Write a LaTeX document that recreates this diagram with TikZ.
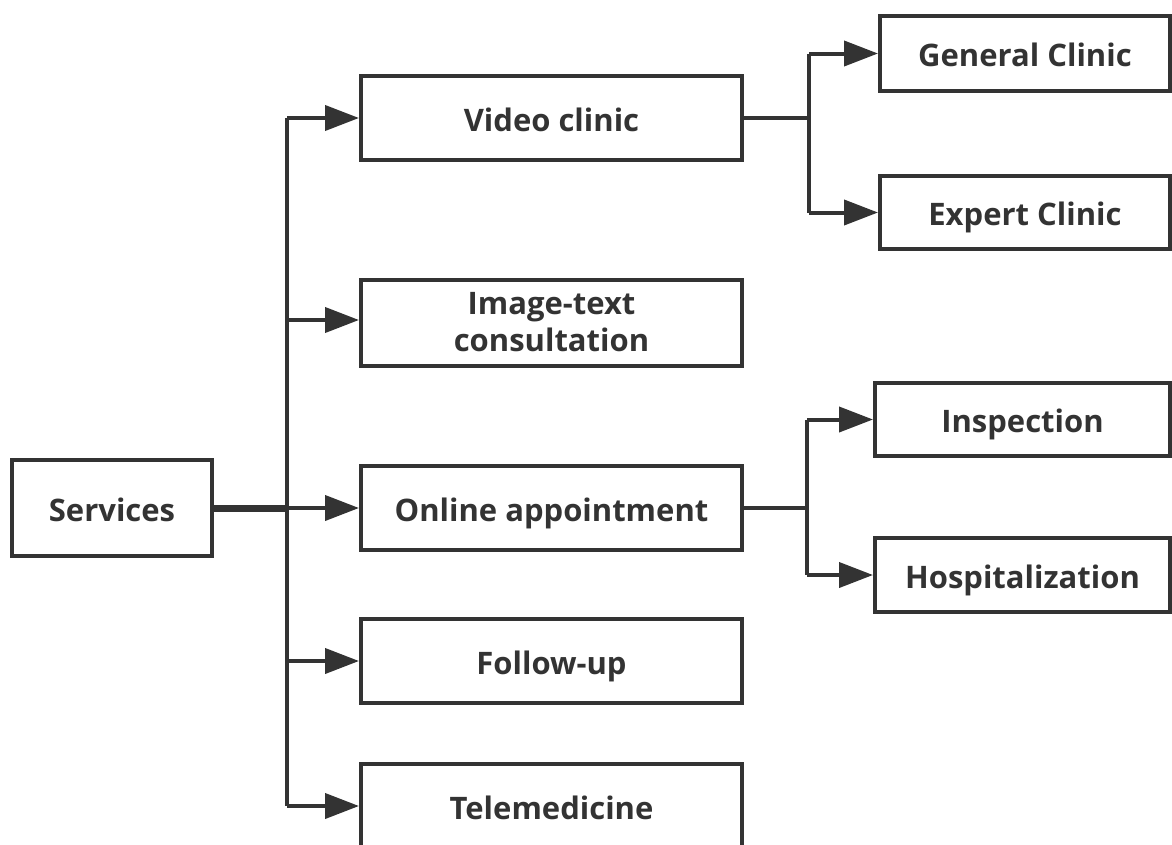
\documentclass[tikz,border=0pt]{standalone}
\usepackage{fontspec}
\setmainfont{Open Sans}
\usetikzlibrary{arrows.meta}
\definecolor{ink}{HTML}{333333}
\tikzset{
  box/.style={draw=ink, line width=4pt, fill=white, text=ink, font=\fontsize{31}{37}\selectfont\bfseries, align=center, inner sep=0pt, text height=26pt, text depth=0pt, anchor=center},
  conn/.style={draw=ink, line width=4pt},
  arr/.style={conn, -{Triangle[length=34pt,width=25pt]}},
}
\begin{document}
\begin{tikzpicture}[x=1pt,y=-1pt]
\useasboundingbox (0,0) rectangle (1172,844);
% level 1
\node[box, minimum width=200pt, minimum height=96pt] (serv) at (112,508) {Services};
% level 2
\node[box, minimum width=381pt, minimum height=84pt] (video) at (551.5,118) {Video clinic};
\node[box, minimum width=381pt, minimum height=86pt, text height={}, text depth={}] (image) at (551.5,322.5) {Image-text\\consultation};
\node[box, minimum width=381pt, minimum height=84pt] (online) at (551.5,508) {Online appointment};
\node[box, minimum width=381pt, minimum height=84pt] (follow) at (551.5,661) {Follow-up};
\node[box, minimum width=381pt, minimum height=84pt] (tele) at (551.5,806) {Telemedicine};
% level 3
\node[box, minimum width=290pt, minimum height=75pt] (general) at (1025,53.5) {General Clinic};
\node[box, minimum width=290pt, minimum height=73pt] (expert) at (1025,212.5) {Expert Clinic};
\node[box, minimum width=295pt, minimum height=73pt] (insp) at (1022.5,419.5) {Inspection};
\node[box, minimum width=295pt, minimum height=74pt] (hosp) at (1022.5,575) {Hospitalization};
% bus coordinates
\coordinate (bus) at (287,0);
\coordinate (vfork) at (809,0);
\coordinate (ofork) at (807,0);
% trunk from Services
\draw[conn, line width=7pt] (serv.east) -- (serv.east -| bus);
\draw[conn] (video.west -| bus) -- (tele.west -| bus);
\foreach \n in {video,online,follow,tele}
  \draw[arr] (\n.west -| bus) -- (\n.west);
\coordinate (imgy) at (0,320);
\draw[arr] (imgy -| bus) -- (imgy -| image.west);
% video clinic branches
\draw[conn] (video.east) -- (video.east -| vfork);
\draw[conn] (general.west -| vfork) -- (expert.west -| vfork);
\draw[arr] (general.west -| vfork) -- (general.west);
\draw[arr] (expert.west -| vfork) -- (expert.west);
% online appointment branches
\draw[conn] (online.east) -- (online.east -| ofork);
\draw[conn] (insp.west -| ofork) -- (hosp.west -| ofork);
\draw[arr] (insp.west -| ofork) -- (insp.west);
\draw[arr] (hosp.west -| ofork) -- (hosp.west);
\end{tikzpicture}
\end{document}
